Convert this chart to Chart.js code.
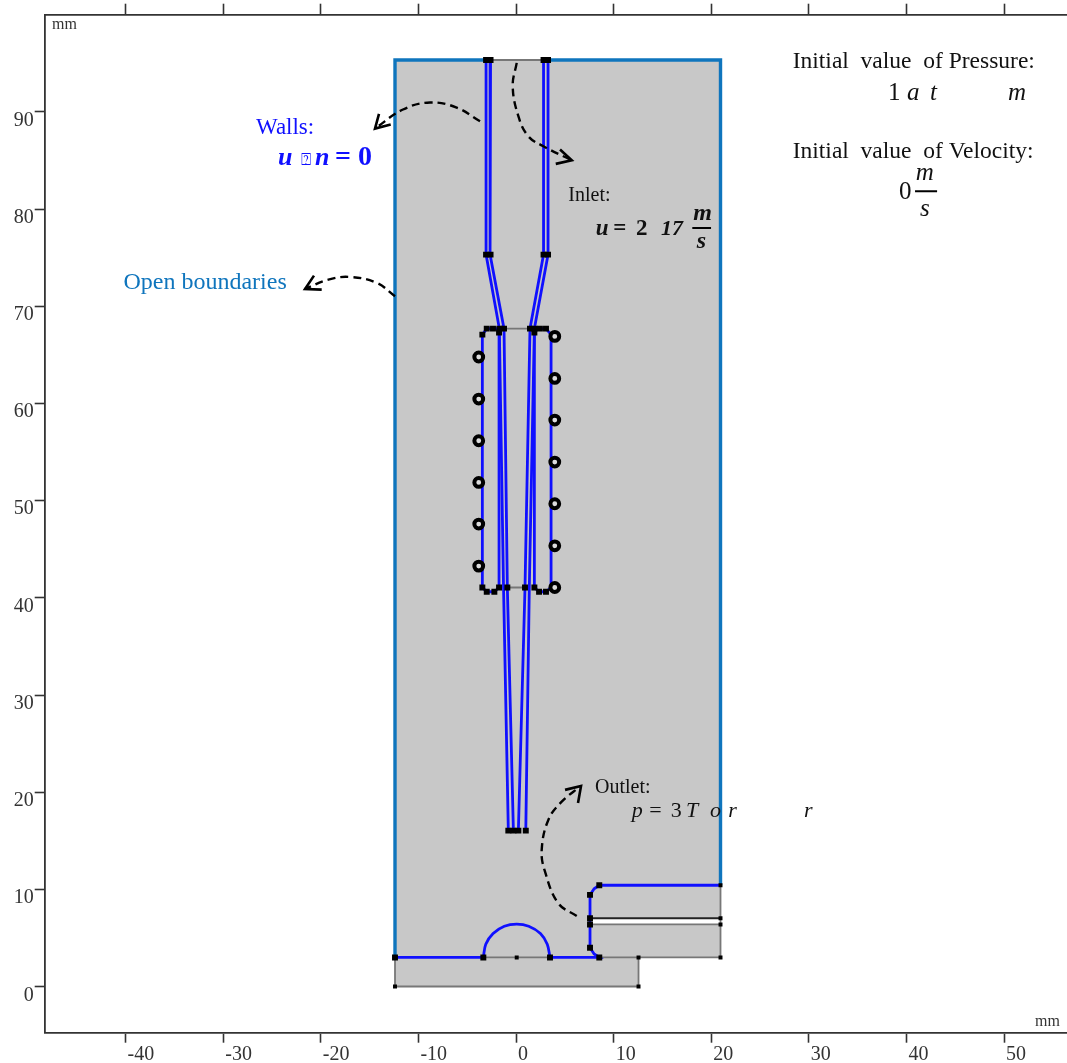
<!DOCTYPE html>
<html>
<head>
<meta charset="utf-8">
<title>Boundary conditions</title>
<script src="https://cdn.jsdelivr.net/npm/chart.js@4/dist/chart.umd.min.js"></script>
<style>
    body { margin: 0; background: #fff; }
    canvas { display: block; }
</style>
</head>
<body>
<canvas id="chart" width="1067" height="1063"></canvas>
<script>
// all geometry is in mm
const xTicks = [-40, -30, -20, -10, 0, 10, 20, 30, 40, 50];
const yTicks = [0, 10, 20, 30, 40, 50, 60, 70, 80, 90];

const domainOutline = [[-12.4, 95.32], [20.95, 95.32], [20.95, 7.07], [7.58, 7.07], [7.58, 6.43], [20.95, 6.43], [20.95, 3.04], [12.55, 3.04], [12.55, 0.05], [-12.4, 0.05]];

const grayLines = [
    [[-12.4, 3.04], [-12.4, 0.05], [12.55, 0.05], [12.55, 3.04]],
    [[-3.35, 3.04], [3.48, 3.04]],
    [[8.53, 3.04], [20.95, 3.04], [20.95, 10.46]],
    [[7.58, 6.43], [20.95, 6.43]],
    [[-2.61, 95.32], [2.82, 95.32]],
    [[-1.23, 67.7], [1.43, 67.7]],
    [[-0.89, 41.08], [0.92, 41.08]]
];
const darkLine = [[7.58, 7.07], [20.95, 7.07]];

const openBoundaries = [
    [[-3.07, 95.32], [-12.4, 95.32], [-12.4, 3.04]],
    [[3.28, 95.32], [20.95, 95.32], [20.95, 10.46]]
];

const wallLines = [
    [[-3.07, 95.32], [-3.07, 75.31], [-1.71, 67.7], [-1.28, 41.08], [-0.79, 16.08]],
    [[-2.61, 95.32], [-2.66, 75.31], [-1.23, 67.7], [-0.89, 41.08], [-0.27, 16.08]],
    [[2.82, 95.32], [2.82, 75.31], [1.43, 67.7], [0.92, 41.08], [0.24, 16.08]],
    [[3.28, 95.32], [3.28, 75.31], [1.88, 67.7], [1.36, 41.08], [1.0, 16.08]],
    [[-1.74, 67.7], [-3.0, 67.7], [-3.45, 67.08], [-3.45, 41.08], [-3.0, 40.64], [-2.22, 40.64], [-1.74, 41.08], [-1.74, 67.7]],
    [[1.88, 67.7], [3.07, 67.7], [3.59, 67.08], [3.59, 41.08], [3.07, 40.64], [2.36, 40.64], [1.88, 41.08], [1.88, 67.7]],
    [[-12.4, 3.04], [-3.35, 3.04]],
    [[3.48, 3.04], [8.53, 3.04], [8.0, 3.4], [7.58, 4.04], [7.58, 9.47], [8.0, 10.1], [8.53, 10.46], [20.95, 10.46]]
];
const domeLine = [[-3.35, 3.04], [-3.1, 4.4], [-2.35, 5.5], [-1.2, 6.25], [0.07, 6.47], [1.3, 6.25], [2.5, 5.5], [3.2, 4.4], [3.48, 3.04]];

const bigNodes = [
    [-3.07, 95.32], [-2.61, 95.32], [2.82, 95.32], [3.28, 95.32],
    [-3.07, 75.31], [-2.61, 75.31], [2.82, 75.31], [3.28, 75.31],
    [-3.0, 67.7], [-3.45, 67.08], [-2.36, 67.7], [-1.71, 67.7], [-1.23, 67.7], [-1.74, 67.3],
    [1.43, 67.7], [1.88, 67.7], [1.88, 67.3], [2.45, 67.7], [3.07, 67.7],
    [-3.45, 41.08], [-3.0, 40.64], [-2.22, 40.64], [-1.74, 41.08], [-0.89, 41.08],
    [0.92, 41.08], [1.88, 41.08], [2.36, 40.64], [3.07, 40.64],
    [-0.79, 16.08], [-0.27, 16.08], [0.24, 16.08], [1.0, 16.08],
    [-12.4, 3.04], [-3.35, 3.04], [3.48, 3.04], [8.53, 3.04],
    [7.58, 4.04], [7.58, 6.43], [7.58, 7.07], [7.58, 9.47], [8.53, 10.46]
];
const smallNodes = [[0.07, 3.04], [12.55, 3.04], [20.95, 3.04], [-12.4, 0.05], [12.55, 0.05], [20.95, 6.43], [20.95, 7.07], [20.95, 10.46]];
const ringNodes = [
    [-3.82, 64.78], [-3.82, 60.46], [-3.82, 56.17], [-3.82, 51.88], [-3.82, 47.6], [-3.82, 43.28],
    [3.97, 66.9], [3.97, 62.58], [3.97, 58.3], [3.97, 53.98], [3.97, 49.69], [3.97, 45.37], [3.97, 41.08]
];

const dashedCurves = [
    [[-3.69, 89.02], [-6.08, 90.43], [-8.81, 90.95], [-11.58, 90.23], [-14.45, 88.27]],
    [[0.07, 95.03], [-0.34, 92.62], [0.24, 89.54], [1.26, 87.48], [2.8, 86.45], [5.71, 85.01]],
    [[-12.4, 71.02], [-14.27, 72.4], [-17.01, 73.01], [-19.23, 72.74], [-21.62, 71.78]],
    [[6.22, 7.3], [4.33, 8.61], [2.97, 11.86], [2.63, 14.09], [3.31, 17.18], [4.68, 19.06], [6.66, 20.68]]
];
const arrowHeads = [
    [[-14.04, 89.78], [-14.45, 88.27], [-12.84, 88.68]],
    [[4.51, 86.11], [5.71, 85.01], [4.07, 84.64]],
    [[-20.7, 73.15], [-21.62, 71.78], [-19.91, 71.71]],
    [[5.02, 20.27], [6.66, 20.68], [6.35, 18.93]]
];
const fractionBars = [
    [[18.06, 78.05], [19.98, 78.05]],
    [[40.88, 81.82], [43.14, 81.82]]
];

const serif = '"Liberation Serif", serif';
const BLUE = '#1010ff';
const OPEN_BLUE = '#0f75bd';
const INK = '#111';

// text, x, y (baseline, mm), font, colour
const annotations = [
    ['mm', -47.54, 98.56, `16px ${serif}`, '#333'],
    ['mm', 53.18, -4.01, `16px ${serif}`, '#333'],
    ['Walls:', -26.64, 87.73, `23px ${serif}`, BLUE],
    ['u', -24.39, 84.5, `italic bold 26px ${serif}`, BLUE],
    ['\u2370', -22.03, 84.5, `17px "DejaVu Sans"`, BLUE],
    ['n', -20.6, 84.5, `italic bold 26px ${serif}`, BLUE],
    ['= 0', -18.55, 84.5, `bold 28px ${serif}`, BLUE],
    ['Open boundaries', -40.22, 71.81, `24px ${serif}`, OPEN_BLUE],
    ['Initial  value  of Pressure:', 28.35, 94.55, `23.5px ${serif}`, INK],
    ['1', 38.11, 91.26, `25px ${serif}`, INK],
    ['a', 40.06, 91.26, `italic 25px ${serif}`, INK],
    ['t', 42.42, 91.26, `italic 25px ${serif}`, INK],
    ['m', 50.41, 91.26, `italic 25px ${serif}`, INK],
    ['Initial  value  of Velocity:', 28.35, 85.29, `23.5px ${serif}`, INK],
    ['0', 39.24, 81.07, `25px ${serif}`, INK],
    ['m', 40.95, 82.96, `italic 25px ${serif}`, INK],
    ['s', 41.39, 79.25, `italic 25px ${serif}`, INK],
    ['Inlet:', 5.36, 80.86, `20px ${serif}`, INK],
    ['u', 8.17, 77.37, `italic bold 23px ${serif}`, INK],
    ['=', 9.97, 77.37, `bold 23px ${serif}`, INK],
    ['2', 12.3, 77.37, `bold 23px ${serif}`, INK],
    ['17', 14.86, 77.37, `italic bold 22px ${serif}`, INK],
    ['m', 18.17, 78.91, `italic bold 24px ${serif}`, INK],
    ['s', 18.51, 76.0, `italic bold 24px ${serif}`, INK],
    ['Outlet:', 8.09, 19.96, `20px ${serif}`, INK],
    ['p', 11.85, 17.46, `italic 22px ${serif}`, INK],
    ['=', 13.66, 17.46, `22px ${serif}`, INK],
    ['3', 15.85, 17.46, `22px ${serif}`, INK],
    ['T', 17.42, 17.46, `italic 22px ${serif}`, INK],
    ['o', 19.88, 17.46, `italic 22px ${serif}`, INK],
    ['r', 21.75, 17.46, `italic 22px ${serif}`, INK],
    ['r', 29.51, 17.46, `italic 22px ${serif}`, INK]
];

const toPoints = pairs => pairs.map(p => ({ x: p[0], y: p[1] }));

function lineSet(pairs, color, width, extra) {
    return Object.assign({
        data: toPoints(pairs),
        showLine: true,
        borderColor: color,
        borderWidth: width,
        pointRadius: 0,
        tension: 0
    }, extra);
}

function nodeSet(pairs, radius, extra) {
    return Object.assign({
        data: toPoints(pairs),
        showLine: false,
        pointStyle: 'rect',
        pointRadius: radius,
        pointBackgroundColor: '#000',
        pointBorderColor: '#000',
        pointBorderWidth: 0
    }, extra);
}

// listed back to front, reversed below since Chart.js paints the first set last
const datasets = [
    lineSet(domainOutline, 'rgba(0,0,0,0)', 0, { fill: 'shape', backgroundColor: '#c8c8c8' }),
    ...grayLines.map(l => lineSet(l, '#777', 1.8)),
    lineSet(darkLine, '#222', 1.8),
    ...openBoundaries.map(l => lineSet(l, OPEN_BLUE, 3.4)),
    ...wallLines.map(l => lineSet(l, BLUE, 2.8)),
    lineSet(domeLine, BLUE, 2.8, { tension: 0.35 }),
    nodeSet(smallNodes, 2.8),
    nodeSet(bigNodes, 4.2),
    nodeSet(ringNodes, 4.4, {
        pointStyle: 'circle',
        pointBackgroundColor: '#dcdcdc',
        pointBorderWidth: 4
    }),
    ...dashedCurves.map(l => lineSet(l, '#000', 2.4, { tension: 0.4, borderDash: [8, 5] })),
    ...arrowHeads.map(l => lineSet(l, '#000', 2.6)),
    ...fractionBars.map(l => lineSet(l, '#000', 2))
].reverse();

const annotationLayer = {
    id: 'annotationLayer',
    afterDatasetsDraw(chart) {
        const ctx = chart.ctx;
        ctx.save();
        ctx.textAlign = 'left';
        ctx.textBaseline = 'alphabetic';
        annotations.forEach(([text, x, y, font, color]) => {
            ctx.font = font;
            ctx.fillStyle = color;
            ctx.fillText(text, chart.scales.x.getPixelForValue(x), chart.scales.y.getPixelForValue(y));
        });
        ctx.restore();
    }
};

const axisColor = '#333';
const xMin = -48.29, xMax = 56.45, yMin = -4.7, yMax = 99.98;

new Chart(document.getElementById('chart'), {
    type: 'scatter',
    data: { datasets },
    plugins: [annotationLayer],
    options: {
        responsive: false,
        animation: false,
        plugins: { legend: { display: false }, tooltip: { enabled: false } },
        layout: { padding: 0, autoPadding: false },
        scales: {
            x: {
                type: 'linear',
                position: 'bottom',
                min: xMin,
                max: xMax,
                afterBuildTicks: s => { s.ticks = xTicks.map(v => ({ value: v })); },
                afterFit: s => { s.height = 30.3; s.paddingLeft = 0; s.paddingRight = 0; },
                border: { color: axisColor, width: 1.8 },
                grid: { drawOnChartArea: false, color: axisColor, tickLength: 10, tickWidth: 1.6 },
                ticks: {
                    align: 'start',
                    labelOffset: 2,
                    padding: 0,
                    maxRotation: 0,
                    autoSkip: false,
                    color: '#333',
                    font: { family: serif, size: 20 }
                }
            },
            xTop: {
                type: 'linear',
                axis: 'x',
                position: 'top',
                display: true,
                min: xMin,
                max: xMax,
                afterBuildTicks: s => { s.ticks = xTicks.map(v => ({ value: v })); },
                afterFit: s => { s.height = 14.7; s.paddingLeft = 0; s.paddingRight = 0; },
                border: { color: axisColor, width: 1.8 },
                grid: { drawOnChartArea: false, color: axisColor, tickLength: 11, tickWidth: 1.6 },
                ticks: { display: false }
            },
            y: {
                type: 'linear',
                position: 'left',
                min: yMin,
                max: yMax,
                afterBuildTicks: s => { s.ticks = yTicks.map(v => ({ value: v })); },
                afterFit: s => { s.width = 44.7; s.paddingTop = 0; s.paddingBottom = 0; },
                border: { color: axisColor, width: 1.8 },
                grid: { drawOnChartArea: false, color: axisColor, tickLength: 10, tickWidth: 1.6 },
                ticks: {
                    labelOffset: 8.5,
                    padding: 1,
                    autoSkip: false,
                    color: '#333',
                    font: { family: serif, size: 20 }
                }
            }
        }
    }
});
</script>
</body>
</html>
